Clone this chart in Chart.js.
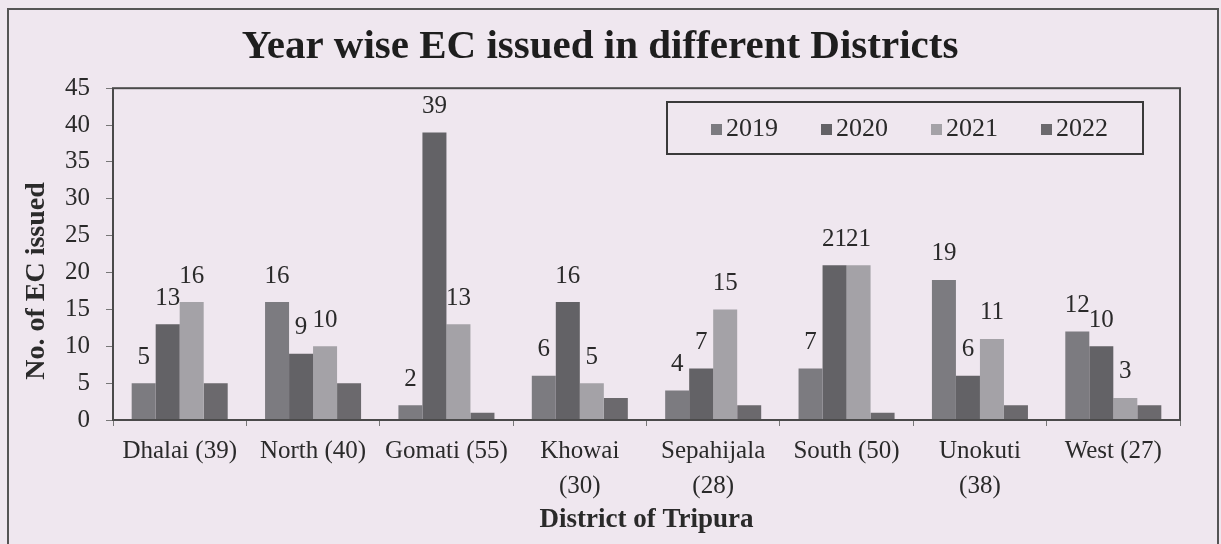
<!DOCTYPE html>
<html>
<head>
<meta charset="utf-8">
<title>Year wise EC issued in different Districts</title>
<script src="https://cdn.jsdelivr.net/npm/chart.js@4/dist/chart.umd.min.js"></script>
<style>
    html, body { margin: 0; padding: 0; background: #efe7ef; }
    #wrap { position: relative; width: 1221px; height: 544px; overflow: hidden; }
    #frame { position: absolute; left: 7px; top: 8px; width: 1208px; height: 560px; border: 2px solid #555; }
    #ecChart { position: absolute; left: 0; top: 0; }
</style>
</head>
<body>
<div id="wrap">
    <div id="frame"></div>
    <canvas id="ecChart" width="1221" height="544"></canvas>
</div>
<script>
// data
const districts = [
    'Dhalai (39)', 'North (40)', 'Gomati (55)', ['Khowai', '(30)'],
    ['Sepahijala', '(28)'], 'South (50)', ['Unokuti', '(38)'], 'West (27)'
];
const years = ['2019', '2020', '2021', '2022'];
const ec2019 = [5, 16, 2, 6, 4, 7, 19, 12];
const ec2020 = [13, 9, 39, 16, 7, 21, 6, 10];
const ec2021 = [16, 10, 13, 5, 15, 21, 11, 3];
const ec2022 = [5, 5, 1, 3, 2, 1, 2, 2];
const yMax = 45;
const yStep = 5;
const yTitle = 'No. of EC issued';

const barColors = ['#7c7b80', '#636266', '#a4a2a7', '#6b696d'];
const serif = "'Liberation Serif', 'DejaVu Serif', serif";

// frame around the plot area
const plotFrame = {
    id: 'plotFrame',
    afterDraw(chart) {
        const { ctx, chartArea: a } = chart;
        ctx.save();
        ctx.strokeStyle = '#4a4a4a';
        ctx.lineWidth = 2;
        ctx.strokeRect(a.left, a.top, a.right - a.left, a.bottom - a.top);
        ctx.restore();
    }
};

// y axis title sits a bit below the plot centre in the original
const sideTitle = {
    id: 'sideTitle',
    afterDraw(chart) {
        const ctx = chart.ctx;
        ctx.save();
        ctx.translate(37, 281);
        ctx.rotate(-Math.PI / 2);
        ctx.font = 'bold 28px ' + serif;
        ctx.fillStyle = '#2a2a2a';
        ctx.textAlign = 'center';
        ctx.textBaseline = 'middle';
        ctx.fillText(yTitle, 0, 0);
        ctx.restore();
    }
};

// value labels above the 2019-2021 bars (2022 has none in the original)
const barLabels = {
    id: 'barLabels',
    afterDatasetsDraw(chart) {
        const ctx = chart.ctx;
        ctx.save();
        ctx.font = '25px ' + serif;
        ctx.fillStyle = '#2a2a2a';
        ctx.textAlign = 'center';
        ctx.textBaseline = 'middle';
        for (let i = 0; i < 3; i++) {
            const meta = chart.getDatasetMeta(i);
            meta.data.forEach((bar, j) => {
                ctx.fillText(chart.data.datasets[i].data[j], bar.x, bar.y - 26);
            });
        }
        ctx.restore();
    }
};

// boxed legend inside the plot, top right
const boxLegend = {
    id: 'boxLegend',
    afterDraw(chart) {
        const ctx = chart.ctx;
        const x0 = 667, y0 = 102, w = 476, h = 52;
        ctx.save();
        ctx.fillStyle = '#efe7ef';
        ctx.fillRect(x0, y0, w, h);
        ctx.strokeStyle = '#3a3a3a';
        ctx.lineWidth = 2;
        ctx.strokeRect(x0, y0, w, h);
        ctx.font = '26px ' + serif;
        ctx.textBaseline = 'middle';
        ctx.textAlign = 'left';
        const cy = y0 + h / 2 + 1;
        chart.data.datasets.forEach((ds, i) => {
            const mx = x0 + 44 + i * 110;
            ctx.fillStyle = ds.backgroundColor;
            ctx.fillRect(mx, cy - 5, 11, 11);
            ctx.fillStyle = '#2a2a2a';
            ctx.fillText(ds.label, mx + 15, cy);
        });
        ctx.restore();
    }
};

const ctx = document.getElementById('ecChart').getContext('2d');

new Chart(ctx, {
    type: 'bar',
    data: {
        labels: districts,
        datasets: [
            { label: years[0], data: ec2019, backgroundColor: barColors[0] },
            { label: years[1], data: ec2020, backgroundColor: barColors[1] },
            { label: years[2], data: ec2021, backgroundColor: barColors[2] },
            { label: years[3], data: ec2022, backgroundColor: barColors[3] }
        ]
    },
    options: {
        responsive: false,
        animation: false,
        layout: { padding: { left: 20, right: 41, top: 0, bottom: 5 } },
        datasets: {
            bar: { barPercentage: 1, categoryPercentage: 0.72, borderWidth: 0 }
        },
        plugins: {
            legend: { display: false },
            tooltip: { enabled: false },
            title: {
                display: true,
                text: 'Year wise EC issued in different Districts',
                color: '#1e1e1e',
                font: { family: serif, size: 41, weight: 'bold' },
                padding: { top: 23, bottom: 16 }
            }
        },
        scales: {
            x: {
                border: { display: false },
                grid: { drawOnChartArea: false, drawTicks: true, tickLength: 6, color: '#777', offset: true },
                ticks: {
                    color: '#2a2a2a',
                    padding: 8,
                    maxRotation: 0,
                    autoSkip: false,
                    font: { family: serif, size: 25, lineHeight: 1.4 }
                },
                title: {
                    display: true,
                    text: 'District of Tripura',
                    color: '#2a2a2a',
                    font: { family: serif, size: 27, weight: 'bold' },
                    padding: { top: 4, bottom: 3 }
                },
                afterFit: function (scale) { scale.height = 119; }
            },
            y: {
                min: 0,
                max: yMax,
                border: { display: false },
                grid: { drawOnChartArea: false, drawTicks: true, tickLength: 7, color: '#777' },
                ticks: {
                    stepSize: yStep,
                    color: '#2a2a2a',
                    padding: 16,
                    font: { family: serif, size: 25 }
                },
                afterFit: function (scale) { scale.width = 93; }
            }
        }
    },
    plugins: [plotFrame, barLabels, boxLegend, sideTitle]
});
</script>
</body>
</html>
